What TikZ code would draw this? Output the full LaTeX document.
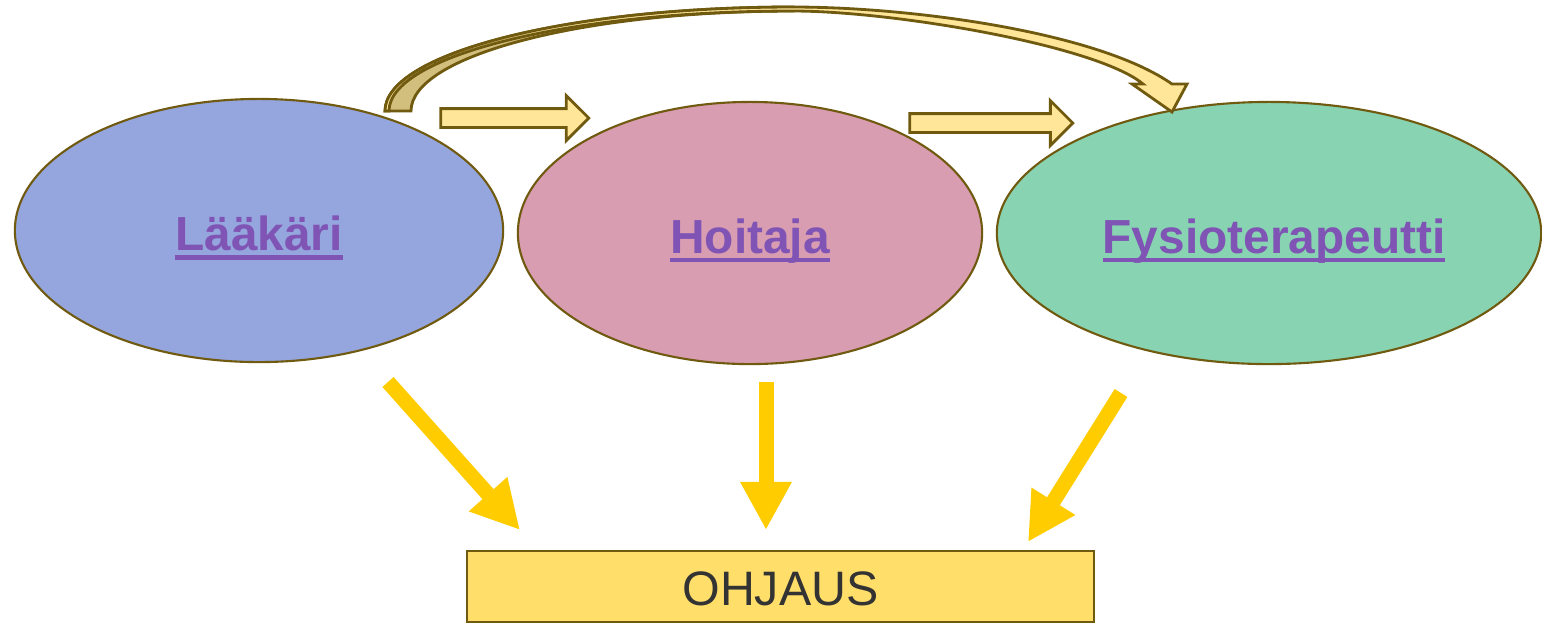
\documentclass[tikz,border=0pt]{standalone}
\usepackage{fontspec}
\setmainfont{Liberation Sans}
\usetikzlibrary{shapes.geometric,shapes.arrows,arrows.meta}

\definecolor{edgebrown}{RGB}{112,90,16}
\definecolor{laakarifill}{RGB}{149,165,222}
\definecolor{hoitajafill}{RGB}{217,157,178}
\definecolor{fysiofill}{RGB}{136,211,178}
\definecolor{labelpurple}{RGB}{127,84,180}
\definecolor{arrowpale}{RGB}{255,230,153}
\definecolor{ribbontan}{RGB}{210,190,125}
\definecolor{ohjausyellow}{RGB}{255,204,0}
\definecolor{boxyellow}{RGB}{255,222,106}
\definecolor{textgray}{RGB}{51,51,51}

% thick underline as in the slide
\newcommand{\ulword}[1]{\setbox0\hbox{#1}\rlap{\rule[-2.6pt]{\wd0}{1.2pt}}\box0}

\begin{document}
\begin{tikzpicture}[x=0.01cm,y=-0.01cm,
  role/.style={ellipse,draw=edgebrown,line width=0.6pt,inner sep=0pt,
    text=labelpurple,font=\fontsize{13.6}{16}\selectfont\bfseries,
    text height=11.4pt,text depth=0pt},
  flowarrow/.style={single arrow,draw=edgebrown,fill=arrowpale,line width=0.8pt,
    inner xsep=0pt,inner ysep=0.08cm,single arrow head extend=0.13cm,
    single arrow tip angle=90},
  ribbon/.style={draw=edgebrown,line width=0.8pt},
  ohjausarrow/.style={draw=ohjausyellow,line width=0.15cm,
    -{Triangle[width=0.48cm,length=0.48cm]}}]
\useasboundingbox (0,0) rectangle (1542,623);

\node[role,fill=laakarifill,minimum width=4.88cm,minimum height=2.63cm] (laakari) at (259,230.5) {\ulword{Lääkäri}};
\node[role,fill=hoitajafill,minimum width=4.64cm,minimum height=2.62cm] (hoitaja) at (750,233) {\ulword{Hoitaja}};
\node[role,fill=fysiofill,minimum width=5.44cm,minimum height=2.62cm] (fysio) at (1269,233) {\hspace*{0.1cm}\ulword{Fysioterapeutti}};

% block arrows between the roles
\node[flowarrow,minimum height=1.48cm] (step1) at (510,118) {};
\node[flowarrow,minimum height=1.63cm] (step2) at (986.5,123) {};

% curved arrow from Laakari over to Fysioterapeutti
\draw[ribbon,fill=ribbontan] (385,111)
  arc[start angle=180,end angle=270,x radius=408,y radius=104] -- (793,11)
  arc[start angle=270,end angle=180,x radius=382,y radius=100] -- cycle;
\draw[ribbon,fill=arrowpale] (385,111)
  arc[start angle=180,end angle=270,x radius=408,y radius=104]
  .. controls (913,7) and (1098.3,32.3) .. (1172,84)
  -- (1187,84) -- (1172,112) -- (1132,84) -- (1143,84)
  .. controls (1097,45.4) and (893,11) .. (793,11)
  arc[start angle=270,end angle=180,x radius=404,y radius=100] -- cycle;

\node[draw=edgebrown,fill=boxyellow,line width=0.5pt,minimum width=6.27cm,minimum height=0.71cm,
  inner sep=0pt,text=textgray,font=\fontsize{13.75}{16}\selectfont,
  text height=10.7pt,text depth=0pt] (ohjaus) at (780.5,586.5) {OHJAUS};

\coordinate (lstart) at (388,382);
\coordinate (ltip) at (520,530);
\coordinate (hstart) at (766,382);
\coordinate (htip) at (766,530);
\coordinate (fstart) at (1121,393);
\coordinate (ftip) at (1028,542);
\draw[ohjausarrow] (lstart) -- (ltip);
\draw[ohjausarrow] (hstart) -- (htip);
\draw[ohjausarrow] (fstart) -- (ftip);
\end{tikzpicture}
\end{document}
